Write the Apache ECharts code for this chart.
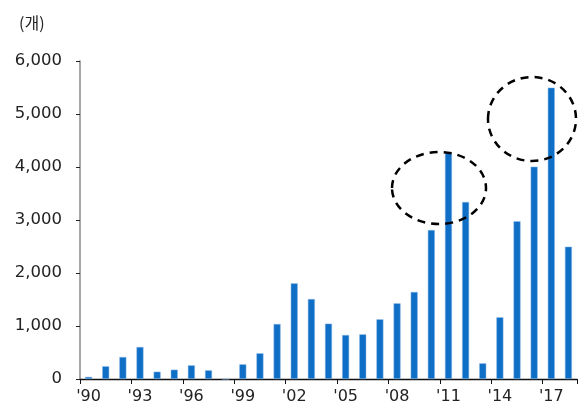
<!DOCTYPE html>
<html><head><meta charset="utf-8">
<script src="https://cdn.jsdelivr.net/npm/echarts@6/dist/echarts.min.js"></script>
<style>html,body{margin:0;padding:0;background:#fff}#c{width:584px;height:410px}</style>
</head><body><div id="c"></div>
<script>
var years = ['1990','1991','1992','1993','1994','1995','1996','1997','1998','1999','2000','2001','2002','2003','2004','2005','2006','2007','2008','2009','2010','2011','2012','2013','2014','2015','2016','2017','2018'];
var counts = [40,240,415,604,138,176,258,164,0,277,485,1038,1805,1509,1044,830,843,1126,1428,1642,2811,4258,3340,296,1164,2975,4006,5497,2497];
var yTicks = [0,1000,2000,3000,4000,5000,6000];
var unitLabel = '(개)';
var FONT = 'DejaVu Sans';
var chart = echarts.init(document.getElementById('c'), null, {renderer:'canvas'});
chart.setOption({
  animation:false,
  grid:{left:80,right:7,top:61,bottom:31,containLabel:false},
  title:{text:unitLabel,left:14,top:10,textStyle:{fontFamily:'Noto Sans CJK KR',fontSize:16,fontWeight:'normal',color:'#222'}},
  xAxis:{type:'category',data:years,boundaryGap:true,
    axisLine:{lineStyle:{color:'#111',width:1.3}},
    axisTick:{show:true,interval:2,alignWithLabel:false,length:5,lineStyle:{color:'#111'}},
    axisLabel:{interval:2,margin:10,fontFamily:FONT,fontSize:16,color:'#222',
      formatter:function(v){return "'"+v.slice(2);}}
  },
  yAxis:{type:'value',min:yTicks[0],max:yTicks[yTicks.length-1],interval:1000,
    axisLine:{show:true,lineStyle:{color:'#888',width:1.5}},
    axisTick:{show:true,length:4,lineStyle:{color:'#222'}},
    splitLine:{show:false},
    axisLabel:{margin:18,fontFamily:FONT,fontSize:16.5,color:'#222',
      formatter:function(v){return v.toLocaleString('en-US');}}
  },
  series:[{type:'bar',data:counts,barWidth:7,
    itemStyle:{color:'#0F6FC6',borderColor:'#8DB9E6',borderWidth:0.5}}],
  graphic:[
    {type:'ellipse',shape:{cx:439,cy:188,rx:47,ry:36},z:100,
      style:{fill:'none',stroke:'#000',lineWidth:2.5,lineDash:[8,6]}},
    {type:'ellipse',shape:{cx:532,cy:119,rx:44,ry:42},z:100,
      style:{fill:'none',stroke:'#000',lineWidth:2.5,lineDash:[8,6]}}
  ]
});
</script></body></html>
